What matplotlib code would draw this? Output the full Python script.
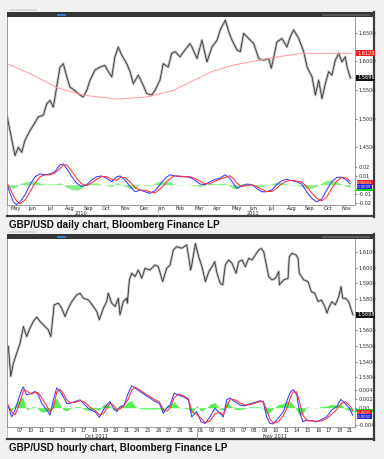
import matplotlib
matplotlib.use("Agg")
import matplotlib.pyplot as plt
import matplotlib.transforms as mtransforms
from matplotlib.patches import Rectangle

# ---- daily chart data (x in months from May 2010) ----
daily_m = [-0.15, 0.27, 0.45, 0.63, 0.81, 1.08, 1.26, 1.53, 1.81, 1.99, 2.17, 2.35, 2.53, 2.71, 2.89,
           3.08, 3.25, 3.52, 3.80, 3.97, 4.16, 4.34, 4.61, 4.88, 5.15, 5.33, 5.52, 5.69, 5.87, 6.06,
           6.33, 6.51, 6.69, 6.96, 7.23, 7.41, 7.68, 7.86, 8.13, 8.31, 8.58, 8.77, 8.95, 9.22, 9.49,
           9.76, 9.87, 10.14, 10.41, 10.68, 10.95, 11.23, 11.40, 11.68, 11.86, 12.04, 12.31, 12.49,
           12.67, 12.94, 13.22, 13.49, 13.76, 14.03, 14.17, 14.48, 14.75, 15.02, 15.20, 15.38, 15.66,
           15.93, 16.11, 16.38, 16.56, 16.74, 16.92, 17.10, 17.28, 17.46, 17.64, 17.83, 18.00, 18.18,
           18.28, 18.46]
daily_close = [1.503, 1.4355, 1.450, 1.441, 1.462, 1.479, 1.488, 1.503, 1.506, 1.526, 1.532, 1.520,
               1.555, 1.590, 1.596, 1.573, 1.555, 1.549, 1.541, 1.538, 1.549, 1.567, 1.585, 1.590,
               1.593, 1.582, 1.573, 1.608, 1.625, 1.611, 1.596, 1.582, 1.561, 1.576, 1.558, 1.544,
               1.541, 1.549, 1.567, 1.596, 1.590, 1.614, 1.617, 1.608, 1.620, 1.631, 1.625, 1.605,
               1.637, 1.599, 1.625, 1.637, 1.655, 1.672, 1.652, 1.637, 1.620, 1.617, 1.649, 1.640,
               1.631, 1.605, 1.602, 1.605, 1.588, 1.634, 1.640, 1.625, 1.643, 1.655, 1.640, 1.617,
               1.590, 1.573, 1.541, 1.567, 1.535, 1.561, 1.582, 1.576, 1.602, 1.614, 1.599, 1.608,
               1.590, 1.571]
ma_m = [-0.15, 1.25, 2.55, 3.96, 5.80, 7.43, 8.84, 9.76, 10.95, 12.04, 13.49, 14.75, 15.84, 18.55]
ma_vals = [1.596, 1.576, 1.554, 1.541, 1.534, 1.538, 1.549, 1.564, 1.582, 1.593, 1.602, 1.609,
           1.614, 1.614]

osc_m = [-0.15, 0.0, 0.18, 0.36, 0.54, 0.81, 1.08, 1.36, 1.63, 1.90, 2.17, 2.44, 2.71, 2.89, 3.07,
         3.35, 3.62, 3.89, 4.16, 4.43, 4.70, 4.97, 5.24, 5.52, 5.79, 5.97, 6.24, 6.51, 6.78, 7.05,
         7.32, 7.59, 7.86, 8.13, 8.41, 8.68, 8.95, 9.22, 9.49, 9.76, 10.03, 10.30, 10.57, 10.85,
         11.12, 11.39, 11.66, 11.93, 12.11, 12.29, 12.56, 12.84, 13.11, 13.38, 13.65, 13.92, 14.19,
         14.46, 14.73, 15.01, 15.28, 15.55, 15.82, 16.09, 16.36, 16.63, 16.90, 17.17, 17.45, 17.72,
         17.99, 18.26, 18.44]
osc_blue = [-0.0004, -0.0096, -0.019, -0.022, -0.019, -0.0114, 0.0, 0.0089, 0.012, 0.011, 0.012,
            0.0145, 0.022, 0.023, 0.018, 0.0089, 0.0016, -0.002, 0.0, 0.0052, 0.0089, 0.0097,
            0.0071, 0.0033, 0.0089, 0.0097, 0.0052, -0.002, -0.0078, -0.0059, -0.0078, -0.0096,
            -0.0067, 0.0, 0.0071, 0.011, 0.0097, 0.0089, 0.0089, 0.0082, 0.0052, 0.0008, 0.0,
            0.0033, 0.006, 0.0071, 0.011, 0.0071, 0.0016, -0.004, -0.0014, 0.0008, 0.0, -0.004,
            -0.0078, -0.0078, -0.0059, 0.0, 0.0044, 0.006, 0.0044, 0.0033, 0.0008, -0.0078, -0.015,
            -0.019, -0.016, -0.0059, 0.0033, 0.0082, 0.0082, 0.0052, 0.0008]
osc_red = [0.001, -0.004, -0.012, -0.018, -0.021, -0.017, -0.008, 0.002, 0.009, 0.011, 0.011,
           0.013, 0.018, 0.022, 0.022, 0.015, 0.007, 0.001, -0.001, 0.002, 0.006, 0.009, 0.009,
           0.006, 0.005, 0.008, 0.008, 0.003, -0.003, -0.006, -0.006, -0.008, -0.009, -0.005,
           0.001, 0.007, 0.010, 0.0095, 0.009, 0.0088, 0.007, 0.004, 0.001, 0.001, 0.004, 0.006,
           0.008, 0.010, 0.007, 0.002, -0.002, -0.001, 0.0, -0.002, -0.005, -0.0075, -0.0075,
           -0.004, 0.001, 0.004, 0.005, 0.004, 0.003, -0.002, -0.009, -0.015, -0.018, -0.014,
           -0.004, 0.004, 0.008, 0.0075, 0.004]
osc_hist = [-0.002, -0.003, -0.004, -0.002, 0.001, 0.003, 0.004, 0.004, 0.002, 0.0005, 0.001,
            0.001, 0.002, 0.0005, -0.003, -0.0055, -0.006, -0.004, 0.0005, 0.002, 0.002, 0.0005,
            -0.001, -0.002, 0.002, 0.001, -0.002, -0.004, -0.004, 0.0005, -0.001, -0.001, 0.002,
            0.004, 0.004, 0.003, 0.0005, -0.0005, 0.0, -0.0005, -0.001, -0.002, -0.001, 0.002,
            0.001, 0.001, 0.002, -0.002, -0.004, -0.005, 0.001, 0.001, 0.0, -0.002, -0.002,
            -0.0005, 0.001, 0.003, 0.002, 0.001, -0.0005, -0.0005, -0.002, -0.004, -0.004, -0.002,
            0.002, 0.005, 0.005, 0.003, 0.0005, -0.002, -0.003]

month_labels = ["May", "Jun", "Jul", "Aug", "Sep", "Oct", "Nov", "Dec", "Jan", "Feb", "Mar", "Apr",
                "May", "Jun", "Jul", "Aug", "Sep", "Oct", "Nov"]
daily_price_ticks = [1.45, 1.50, 1.55, 1.60, 1.65]
daily_osc_ticks = [0.02, 0.01, -0.01, -0.02]

# ---- hourly chart data (x in trading days from 6 Oct 2011) ----
hourly_i = [-0.1, 0.12, 0.37, 0.69, 1.0, 1.31, 1.62, 1.93, 2.24, 2.56, 2.87, 3.34, 3.65, 3.88, 4.12,
            4.19, 4.59, 4.91, 5.22, 5.53, 5.85, 6.32, 6.63, 6.94, 7.41, 7.88, 8.2, 8.44, 8.82, 9.13,
            9.28, 9.6, 9.92, 10.23, 10.38, 10.69, 11.01, 11.07, 11.26, 11.48, 11.79, 12.1, 12.42,
            12.73, 13.2, 13.67, 13.98, 14.39, 14.77, 15.08, 15.39, 15.71, 16.18, 16.65, 17.02,
            17.15, 17.46, 17.77, 18.08, 18.4, 18.72, 19.02, 19.28, 19.49, 19.8, 20.03, 20.27, 20.59,
            20.9, 21.28, 21.53, 21.84, 22.15, 22.47, 22.78, 23.09, 23.41, 23.65, 23.88, 24.09,
            24.35, 24.66, 24.97, 25.29, 25.34, 25.76, 26.16, 26.28, 26.54, 26.91, 27.1, 27.22,
            27.63, 28.04, 28.35, 28.67, 28.98, 29.29, 29.61, 29.82, 30.04, 30.29, 30.6, 30.92,
            31.14, 31.29, 31.54, 31.86, 32.1, 32.26]
hourly_px = [1.5497, 1.5306, 1.539, 1.5455, 1.5518, 1.5624, 1.556, 1.5614, 1.5656, 1.5684, 1.5656,
             1.5624, 1.5603, 1.556, 1.571, 1.5762, 1.5773, 1.5741, 1.5688, 1.5741, 1.5783, 1.5826,
             1.5837, 1.5805, 1.5794, 1.5752, 1.572, 1.5667, 1.5741, 1.5783, 1.5837, 1.5773, 1.5752,
             1.5805, 1.5699, 1.5783, 1.5805, 1.5773, 1.5922, 1.5964, 1.5943, 1.5985, 1.5932,
             1.5996, 1.5985, 1.6017, 1.6006, 1.5911, 1.5996, 1.6017, 1.6113, 1.6134, 1.6124,
             1.6145, 1.5985, 1.6028, 1.6155, 1.607, 1.6006, 1.5911, 1.5975, 1.6006, 1.6038, 1.5964,
             1.59, 1.589, 1.6017, 1.6049, 1.6028, 1.5964, 1.6038, 1.6049, 1.6006, 1.606, 1.6049,
             1.6081, 1.6113, 1.6123, 1.6102, 1.6028, 1.5943, 1.5922, 1.5932, 1.5975, 1.589, 1.5922,
             1.5932, 1.607, 1.6092, 1.6081, 1.606, 1.5964, 1.5922, 1.5911, 1.5847, 1.5837, 1.5783,
             1.5794, 1.5752, 1.571, 1.5752, 1.5783, 1.5762, 1.5815, 1.5879, 1.5805, 1.5805, 1.5783,
             1.5731, 1.5699]

hosc_i = [-0.1, 0.21, 0.53, 0.84, 1.15, 1.31, 1.62, 2.09, 2.4, 2.71, 3.03, 3.5, 3.81, 4.12, 4.44,
          4.75, 5.06, 5.38, 5.69, 6.16, 6.63, 7.1, 7.57, 8.04, 8.44, 8.82, 9.13, 9.44, 9.76, 10.08,
          10.38, 10.76, 11.16, 11.48, 11.79, 12.26, 12.73, 13.2, 13.67, 14.08, 14.45, 14.77, 15.08,
          15.46, 15.86, 16.33, 16.8, 17.12, 17.59, 17.99, 18.37, 18.84, 19.3, 19.77, 20.08, 20.4,
          20.71, 21.18, 21.65, 22.12, 22.58, 23.06, 23.53, 23.84, 24.16, 24.47, 24.78, 25.25,
          25.72, 26.09, 26.41, 26.66, 26.98, 27.22, 27.54, 27.92, 28.39, 28.85, 29.32, 29.79,
          30.26, 30.73, 31.11, 31.51, 31.92, 32.23]
hosc_blue = [0.0002, -0.0021, -0.0005, 0.0018, 0.0041, 0.0047, 0.0029, 0.0033, 0.0037, 0.0029,
             0.0010, -0.0005, -0.0017, 0.0018, 0.0045, 0.0037, 0.0025, 0.0010, 0.0010, 0.0014,
             0.0018, 0.0006, -0.0005, -0.0009, -0.0022, -0.0005, 0.0006, 0.0014, -0.0001, -0.0009,
             0.0002, 0.0006, 0.0033, 0.0050, 0.0045, 0.0037, 0.0029, 0.0022, 0.0014, 0.0010,
             -0.0013, -0.0001, 0.0006, 0.0033, 0.0029, 0.0025, 0.0018, -0.0021, -0.0009, -0.0032,
             -0.0036, -0.0021, -0.0001, -0.0013, -0.0021, 0.0018, 0.0022, 0.0014, 0.0006, 0.0004,
             0.0009, 0.0012, 0.0016, 0.0012, -0.0021, -0.0036, -0.0037, -0.0024, -0.0009, 0.0018,
             0.0037, 0.0041, 0.0029, -0.0005, -0.0032, -0.0028, -0.0030, -0.0032, -0.0027, -0.0021,
             -0.0005, 0.0002, 0.0019, 0.0010, -0.0001, -0.0017]
hosc_red = [0.0006, -0.0010, -0.0016, 0.0002, 0.0025, 0.0040, 0.0038, 0.0031, 0.0035, 0.0034,
            0.0022, 0.0004, -0.0010, 0.0000, 0.0035, 0.0042, 0.0032, 0.0018, 0.0012, 0.0012,
            0.0016, 0.0012, 0.0001, -0.0006, -0.0016, -0.0014, -0.0002, 0.0010, 0.0006, -0.0004,
            -0.0003, 0.0004, 0.0020, 0.0040, 0.0047, 0.0040, 0.0032, 0.0025, 0.0018, 0.0013,
            -0.0004, -0.0008, -0.0001, 0.0022, 0.0031, 0.0027, 0.0021, -0.0008, -0.0016, -0.0024,
            -0.0034, -0.0030, -0.0014, -0.0010, -0.0016, 0.0002, 0.0018, 0.0018, 0.0011, 0.0006,
            0.0007, 0.0010, 0.0014, 0.0015, -0.0006, -0.0026, -0.0035, -0.0032, -0.0018, 0.0001,
            0.0025, 0.0036, 0.0036, 0.0015, -0.0016, -0.0030, -0.0030, -0.0031, -0.0030, -0.0025,
            -0.0015, -0.0004, 0.0008, 0.0014, 0.0006, -0.0006]
hosc_hist = [-0.0003, -0.0008, 0.0008, 0.0015, 0.0024, 0.0020, -0.0006, 0.0002, 0.0002, -0.0004,
             -0.0010, -0.0008, -0.0006, 0.0016, 0.0022, 0.0006, -0.0005, -0.0007, -0.0002, 0.0002,
             0.0002, -0.0005, -0.0006, -0.0003, -0.0006, 0.0008, 0.0008, 0.0005, -0.0006, -0.0005,
             0.0004, 0.0003, 0.0014, 0.0016, 0.0003, -0.0002, -0.0003, -0.0003, -0.0003, -0.0002,
             -0.0009, 0.0006, 0.0007, 0.0014, 0.0002, -0.0001, -0.0003, -0.0014, 0.0005, -0.0008,
             -0.0003, 0.0008, 0.0012, -0.0003, -0.0005, 0.0016, 0.0006, -0.0004, -0.0004, -0.0002,
             0.0002, 0.0002, 0.0002, -0.0002, -0.0014, -0.0010, -0.0002, 0.0007, 0.0009, 0.0016,
             0.0014, 0.0006, -0.0006, -0.0018, -0.0014, 0.0002, 0.0000, -0.0001, 0.0003, 0.0004,
             0.0008, 0.0006, 0.0010, -0.0003, -0.0006, -0.0010]

day_labels = ["07", "10", "11", "12", "13", "14", "17", "18", "19", "20", "21", "24", "25", "26",
              "27", "28", "31", "01", "02", "03", "04", "07", "08", "09", "10", "11", "14", "15",
              "16", "17", "18", "21"]
hourly_price_ticks = [1.53, 1.54, 1.55, 1.56, 1.58, 1.59, 1.60, 1.61]
hourly_osc_ticks = [0.004, 0.002, 0.0, -0.004]

W, H = 384, 459
SMALL = 3.6
GRID = "#8c8c8c"


def box(x0, y0, x1, y1):
    return [x0 / W, 1 - y1 / H, (x1 - x0) / W, (y1 - y0) / H]


def style_axes(ax):
    ax.set_facecolor("white")
    for s in ax.spines.values():
        s.set_color(GRID)
        s.set_linewidth(0.6)
    ax.spines["top"].set_visible(False)
    ax.yaxis.tick_right()
    ax.tick_params(axis="y", labelsize=SMALL, length=1.5, width=0.4, pad=1, colors="#222222")
    ax.tick_params(axis="x", length=0, labelsize=SMALL, pad=1, colors="#222222")


def tag(ax, y, text, bg, size=SMALL, fg="white"):
    tr = mtransforms.blended_transform_factory(ax.transAxes, ax.transData)
    ax.text(1.006, y, text, transform=tr, fontsize=size, color=fg, va="center", ha="left",
            bbox=dict(boxstyle="square,pad=0.12", fc=bg, ec="none"), clip_on=False, zorder=5)


def green_block(ax, y0, y1):
    tr = mtransforms.blended_transform_factory(ax.transAxes, ax.transData)
    ax.add_patch(Rectangle((1.004, y0), 0.048, y1 - y0, transform=tr, fc="#22cc22", ec="none",
                           clip_on=False, zorder=4))


fig = plt.figure(figsize=(W / 100, H / 100), dpi=100, facecolor="#f1f1f1")
bg = fig.add_axes([0, 0, 1, 1])
bg.set_xlim(0, W)
bg.set_ylim(H, 0)
bg.axis("off")

for top, bot, cap in [(12, 216, "GBP/USD daily chart, Bloomberg Finance LP"),
                      (234, 439, "GBP/USD hourly chart, Bloomberg Finance LP")]:
    bg.add_patch(Rectangle((7, top), 366, bot - top, fc="white", ec="#b0b0b0", lw=0.5))
    bg.add_patch(Rectangle((7, top), 366, 5, fc="#363636", ec="none"))
    bg.add_patch(Rectangle((57, top + 1.5), 9, 2.5, fc="#3a78d0", ec="none"))
    bg.add_patch(Rectangle((322, top + 1.5), 48, 2, fc="#5a5a5a", ec="none"))
    bg.add_patch(Rectangle((9, top - 3.5), 28, 2, fc="#d8d8d8", ec="none"))
    bg.plot([373.5, 373.5], [top, bot + 1], color="#3c3c3c", lw=1.6)
    bg.plot([7, 374], [bot, bot], color="#3c3c3c", lw=1.6)
    bg.text(9, bot + 9, cap, fontsize=7.1, fontweight="bold", family="Liberation Sans",
            va="center", ha="left", color="#111111")

# ---------------- daily price ----------------
ax1 = fig.add_axes(box(7, 17, 355, 163))
style_axes(ax1)
ax1.plot(daily_m, daily_close, color="#bdbdbd", lw=1.9)
ax1.plot(daily_m, daily_close, color="#262626", lw=0.5)
ax1.plot(ma_m, ma_vals, color="#ff9a9a", lw=0.7)
ax1.set_xlim(-0.163, 18.71)
ax1.set_ylim(1.4225, 1.6775)
ax1.set_yticks(daily_price_ticks)
ax1.set_yticklabels([f"{v:.4f}" for v in daily_price_ticks])
ax1.set_xticks([])
tag(ax1, ma_vals[-1], "1.6129", "#ee1c1c")
tag(ax1, daily_close[-1], "1.5696", "#111111")

# ---------------- daily oscillator ----------------
ax2 = fig.add_axes(box(7, 163, 355, 205))
style_axes(ax2)
ax2.fill_between(osc_m, 0, osc_hist, color="#86ec86", lw=0)
ax2.plot(osc_m, osc_blue, color="#3a3aff", lw=0.75)
ax2.plot(osc_m, osc_red, color="#ff3030", lw=0.75)
ax2.set_xlim(-0.163, 18.71)
ax2.set_ylim(-0.0225, 0.0241)
ax2.set_yticks(daily_osc_ticks)
ax2.set_yticklabels(["0.02", "0.01", "-0.01", "-0.02"])
ax2.set_xticks(range(len(month_labels)))
ax2.set_xticklabels(month_labels, ha="left")
tr2 = mtransforms.blended_transform_factory(ax2.transData, ax2.transAxes)
ax2.text(3.85, -0.2, "2010", transform=tr2, fontsize=SMALL, ha="center", va="center", color="#222222")
ax2.text(13.2, -0.2, "2011", transform=tr2, fontsize=SMALL, ha="center", va="center", color="#222222")
ax2.plot([8.0, 8.0], [-0.02, -0.25], transform=tr2, color="#c8c8c8", lw=0.4, clip_on=False)
tag(ax2, 0.0024, "0.00003", "#ee1c1c", size=2.6)
tag(ax2, -0.0021, "-0.0009", "#2222dd", size=2.6)
green_block(ax2, -0.0068, -0.0042)

# ---------------- hourly price ----------------
ax3 = fig.add_axes(box(7, 239, 355, 384))
style_axes(ax3)
ax3.plot(hourly_i, hourly_px, color="#bdbdbd", lw=1.8)
ax3.plot(hourly_i, hourly_px, color="#262626", lw=0.5)
ax3.set_xlim(-0.23, 32.45)
ax3.set_ylim(1.5257, 1.6183)
ax3.set_yticks(hourly_price_ticks)
ax3.set_yticklabels([f"{v:.4f}" for v in hourly_price_ticks])
ax3.set_xticks([])
tag(ax3, hourly_px[-1], "1.5698", "#111111")

# ---------------- hourly oscillator ----------------
ax4 = fig.add_axes(box(7, 384, 355, 427))
style_axes(ax4)
ax4.fill_between(hosc_i, 0, hosc_hist, color="#55f055", lw=0)
ax4.plot(hosc_i, hosc_blue, color="#3a3aff", lw=0.75)
ax4.plot(hosc_i, hosc_red, color="#ff3030", lw=0.75)
ax4.set_xlim(-0.23, 32.45)
ax4.set_ylim(-0.0044, 0.0054)
ax4.set_yticks(hourly_osc_ticks)
ax4.set_yticklabels(["0.004", "0.002", "0.00", "-0.004"])
ax4.set_xticks(range(1, len(day_labels) + 1))
ax4.set_xticklabels(day_labels)
tr4 = mtransforms.blended_transform_factory(ax4.transData, ax4.transAxes)
ax4.text(8.2, -0.22, "Oct 2011", transform=tr4, fontsize=SMALL, ha="center", va="center", color="#222222")
ax4.text(24.9, -0.22, "Nov 2011", transform=tr4, fontsize=SMALL, ha="center", va="center", color="#222222")
ax4.plot([17.6, 17.6], [-0.02, -0.28], transform=tr4, color=GRID, lw=0.5, clip_on=False)
green_block(ax4, -0.0009, -0.0003)
tag(ax4, -0.0011, "-0.0001", "#ee1c1c", size=2.6)
tag(ax4, -0.0021, "-0.0002", "#2222dd", size=2.6)

fig.savefig("out.png", dpi=100, facecolor=fig.get_facecolor())
